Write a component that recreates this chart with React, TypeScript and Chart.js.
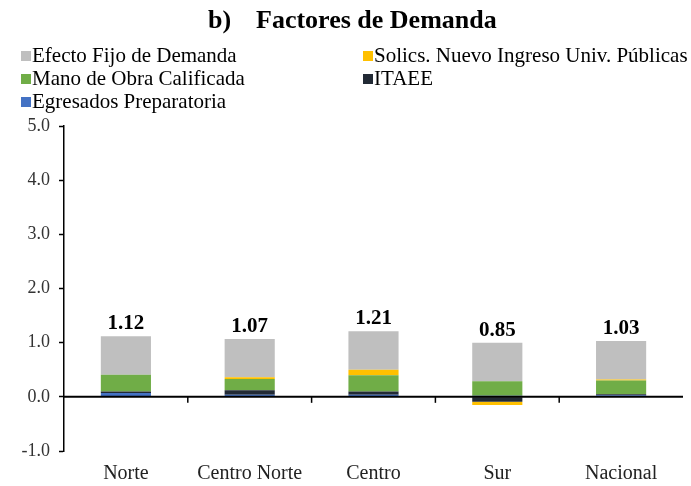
import React, { useEffect, useRef } from "react";
import { Chart, registerables } from "chart.js";

Chart.register(...registerables);

const categories = ["Norte", "Centro Norte", "Centro", "Sur", "Nacional"];
const efectoFijo = [0.71, 0.71, 0.71, 0.71, 0.71];
const solics = [0.0, 0.03, 0.1, -0.06, 0.02];
const manoObra = [0.31, 0.21, 0.3, 0.27, 0.25];
const itaee = [0.03, 0.08, 0.06, -0.09, 0.02];
const egresados = [0.07, 0.04, 0.04, 0.02, 0.03];
const yTicks = [-1, 0, 1, 2, 3, 4, 5];

const FONT = "'Liberation Serif', 'Times New Roman', serif";

const overlayPlugin = {
  id: "overlay",
  afterDatasetsDraw(chart: any) {
    const { ctx, scales, chartArea } = chart;
    const x = scales.x;
    const y = scales.y;
    const zeroY = y.getPixelForValue(0);
    ctx.save();
    ctx.strokeStyle = "#000";
    ctx.lineWidth = 2;
    ctx.beginPath();
    ctx.moveTo(chartArea.left, zeroY);
    ctx.lineTo(chartArea.right, zeroY);
    ctx.stroke();
    ctx.lineWidth = 1.5;
    for (let i = 0; i < categories.length - 1; i++) {
      const bx = (x.getPixelForValue(i) + x.getPixelForValue(i + 1)) / 2;
      ctx.beginPath();
      ctx.moveTo(bx, zeroY);
      ctx.lineTo(bx, zeroY + 6);
      ctx.stroke();
    }
    ctx.fillStyle = "#000";
    ctx.font = `bold 21px ${FONT}`;
    ctx.textAlign = "center";
    ctx.textBaseline = "alphabetic";
    categories.forEach((_, i) => {
      let pos = 0;
      let total = 0;
      chart.data.datasets.forEach((ds: any) => {
        const v = ds.data[i];
        total += v;
        if (v > 0) pos += v;
      });
      ctx.fillText(total.toFixed(2), x.getPixelForValue(i), y.getPixelForValue(pos) - 7);
    });
    ctx.restore();
  },
  afterDraw(chart: any) {
    const { ctx } = chart;
    ctx.save();
    ctx.fillStyle = "#000";
    ctx.font = `bold 26px ${FONT}`;
    ctx.textBaseline = "middle";
    ctx.textAlign = "left";
    ctx.fillText("b)", 208, 21);
    ctx.fillText("Factores de Demanda", 256, 21);
    const items = [...chart.data.datasets].reverse();
    ctx.font = `21px ${FONT}`;
    items.forEach((ds: any, k: number) => {
      const col = k % 2;
      const row = Math.floor(k / 2);
      const lx = col === 0 ? 21 : 363;
      const ly = 56 + row * 23;
      ctx.fillStyle = ds.backgroundColor;
      ctx.fillRect(lx, ly - 5, 10, 10);
      ctx.fillStyle = "#000";
      ctx.fillText(ds.label, lx + 11, ly);
    });
    ctx.restore();
  },
};

export default function App() {
  const ref = useRef<HTMLCanvasElement>(null);
  useEffect(() => {
    document.body.style.margin = "0";
    const chart = new Chart(ref.current!, {
      type: "bar",
      data: {
        labels: categories,
        datasets: [
          { label: "Egresados Preparatoria", data: egresados, backgroundColor: "#4472C4" },
          { label: "ITAEE", data: itaee, backgroundColor: "#222A35" },
          { label: "Mano de Obra Calificada", data: manoObra, backgroundColor: "#70AD47" },
          { label: "Solics. Nuevo Ingreso Univ. Públicas", data: solics, backgroundColor: "#FFC000" },
          { label: "Efecto Fijo de Demanda", data: efectoFijo, backgroundColor: "#BFBFBF" },
        ],
      },
      options: {
        animation: false,
        responsive: true,
        maintainAspectRatio: false,
        layout: { padding: { top: 126, right: 8, left: 0, bottom: 0 } },
        datasets: { bar: { barPercentage: 0.405, categoryPercentage: 1 } },
        plugins: { legend: { display: false }, title: { display: false }, tooltip: { enabled: false } },
        scales: {
          x: {
            stacked: true,
            afterFit: (s: any) => {
              s.height = 35;
            },
            grid: { display: false, drawTicks: false },
            border: { display: false },
            ticks: { color: "#222", font: { family: FONT, size: 20 }, padding: 11 },
          },
          y: {
            stacked: true,
            min: -1,
            max: 5,
            afterBuildTicks: (s: any) => {
              s.ticks = yTicks.map((v) => ({ value: v }));
            },
            afterFit: (s: any) => {
              s.width = 64;
            },
            grid: {
              drawOnChartArea: false,
              color: "#000",
              tickColor: "#000",
              tickLength: 5,
              tickWidth: 1.5,
            },
            border: { display: true, color: "#000", width: 1.5 },
            ticks: {
              color: "#333",
              font: { family: FONT, size: 18 },
              padding: 9,
              callback: (v: any) => Number(v).toFixed(1),
            },
          },
        },
      },
      plugins: [overlayPlugin],
    });
    return () => chart.destroy();
  }, []);
  return (
    <div style={{ width: 691, height: 486, position: "relative" }}>
      <canvas ref={ref} />
    </div>
  );
}
